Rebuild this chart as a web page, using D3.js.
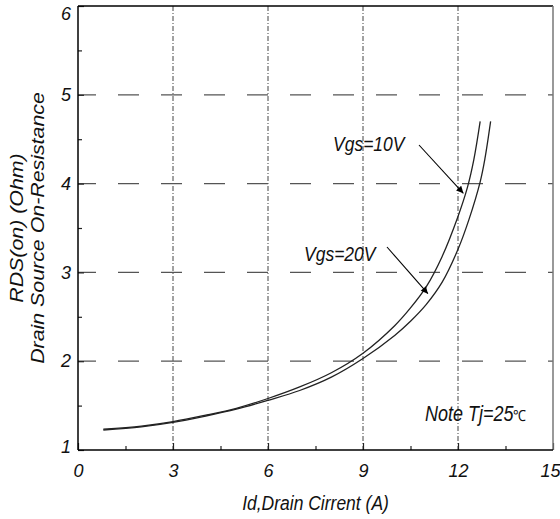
<!DOCTYPE html>
<html>
<head>
<meta charset="utf-8">
<script src="https://cdn.jsdelivr.net/npm/d3@7"></script>
<style>
  body { margin: 0; background: #fff; }
  svg text { font-family: "Liberation Sans", Arial, sans-serif; fill: #111; }
</style>
</head>
<body>
<div id="chart"></div>
<script>
// axis ticks
var xTicks = [0, 3, 6, 9, 12, 15];
var xMinor = [1.5, 4.5, 7.5, 10.5, 13.5];
var yTicks = [1, 2, 3, 4, 5, 6];
var yMinor = [1.5, 2.5, 3.5, 4.5, 5.5];
var xGrid = [3, 6, 9, 12];
var yGrid = [2, 3, 4, 5];

// curves: Id (A) vs RDS(on) (Ohm)
var id10 = [0.8, 2, 3, 4, 5, 6, 7, 8, 9, 10, 10.5, 11, 11.5, 12, 12.3, 12.5, 12.7];
var rds10 = [1.235, 1.27, 1.32, 1.39, 1.47, 1.58, 1.71, 1.87, 2.09, 2.40, 2.60, 2.84, 3.18, 3.63, 3.96, 4.27, 4.7];
var id20 = [0.8, 2, 3, 4, 5, 6, 7, 8, 9, 10, 10.5, 11, 11.5, 12, 12.35, 12.7, 12.85, 13.03];
var rds20 = [1.225, 1.26, 1.31, 1.38, 1.46, 1.56, 1.67, 1.82, 2.03, 2.29, 2.45, 2.64, 2.89, 3.26, 3.6, 4.02, 4.28, 4.7];

var W = 560, H = 519;
var margin = {top: 6, right: 7, bottom: 69, left: 78};

var svg = d3.select("#chart").append("svg")
    .attr("width", W)
    .attr("height", H);

var x = d3.scaleLinear().domain([0, 15]).range([margin.left, W - margin.right]);
var y = d3.scaleLinear().domain([1, 6]).range([H - margin.bottom, margin.top]);

// text stretched a bit vertically like the scanned original
function label(px, py, str, size, sx, sy, rot) {
    var g = svg.append("g")
        .attr("transform", `translate(${px},${py})` + (rot ? ` rotate(${rot})` : "") + ` scale(${sx},${sy})`);
    return g.append("text").attr("font-size", size).attr("font-style", "italic").text(str);
}

// grid lines
svg.append("g").selectAll("line").data(xGrid).enter().append("line")
    .attr("x1", d => x(d)).attr("x2", d => x(d))
    .attr("y1", y(6)).attr("y2", y(1))
    .attr("stroke", "#444").attr("stroke-width", 1)
    .attr("stroke-dasharray", "5,2,1,2");

svg.append("g").selectAll("line").data(yGrid).enter().append("line")
    .attr("x1", x(0)).attr("x2", x(15))
    .attr("y1", d => y(d)).attr("y2", d => y(d))
    .attr("stroke", "#555").attr("stroke-width", 1.3)
    .attr("stroke-dasharray", "21,22")
    .attr("stroke-dashoffset", 3);

// axes
var xAxis = svg.append("g")
    .attr("transform", `translate(0,${y(1)})`)
    .call(d3.axisBottom(x).tickValues(xTicks).tickSize(-7).tickPadding(14).tickFormat(d3.format("d")));
var xAxisMinor = svg.append("g")
    .attr("transform", `translate(0,${y(1)})`)
    .call(d3.axisBottom(x).tickValues(xMinor).tickSize(-4).tickFormat(""));
var yAxis = svg.append("g")
    .attr("transform", `translate(${x(0)},0)`)
    .call(d3.axisLeft(y).tickValues(yTicks).tickSize(-6).tickPadding(7).tickFormat(d3.format("d")));
var yAxisMinor = svg.append("g")
    .attr("transform", `translate(${x(0)},0)`)
    .call(d3.axisLeft(y).tickValues(yMinor).tickSize(-4).tickFormat(""));

[xAxis, xAxisMinor, yAxis, yAxisMinor].forEach(function (g) {
    g.select(".domain").remove();
    g.selectAll("line").attr("stroke", "#222").attr("stroke-width", 1.2);
    g.selectAll("text").attr("font-size", 18).attr("font-style", "italic").attr("fill", "#111");
});
yAxis.selectAll("text").attr("dy", d => d === 6 ? "0.75em" : (d === 1 ? "0.15em" : "0.32em"));
xAxis.selectAll("text").filter(d => d === 15).attr("text-anchor", "end").attr("x", 7);

// frame
svg.append("line").attr("x1", x(0)).attr("x2", x(15)).attr("y1", y(6)).attr("y2", y(6))
    .attr("stroke", "#000").attr("stroke-width", 1.5);
svg.append("line").attr("x1", x(15)).attr("x2", x(15)).attr("y1", y(6)).attr("y2", y(1))
    .attr("stroke", "#777").attr("stroke-width", 1.5);
svg.append("line").attr("x1", x(0)).attr("x2", x(0)).attr("y1", y(6)).attr("y2", y(1))
    .attr("stroke", "#000").attr("stroke-width", 1.5);
svg.append("line").attr("x1", x(0)).attr("x2", x(15)).attr("y1", y(1)).attr("y2", y(1))
    .attr("stroke", "#000").attr("stroke-width", 1.5);

// curves
var line = d3.line()
    .x(d => x(d[0]))
    .y(d => y(d[1]))
    .curve(d3.curveCatmullRom.alpha(0.5));

svg.append("path")
    .datum(id10.map((v, i) => [v, rds10[i]]))
    .attr("d", line)
    .attr("fill", "none").attr("stroke", "#222").attr("stroke-width", 1.3);
svg.append("path")
    .datum(id20.map((v, i) => [v, rds20[i]]))
    .attr("d", line)
    .attr("fill", "none").attr("stroke", "#222").attr("stroke-width", 1.3);

// arrows
svg.append("defs").append("marker")
    .attr("id", "arrow")
    .attr("viewBox", "0 0 10 10")
    .attr("refX", 10).attr("refY", 5)
    .attr("markerWidth", 10).attr("markerHeight", 7)
    .attr("markerUnits", "userSpaceOnUse")
    .attr("orient", "auto")
    .append("path").attr("d", "M0,0 L10,5 L0,10 z").attr("fill", "#000");

svg.append("line")
    .attr("x1", 419).attr("y1", 145).attr("x2", x(12.17)).attr("y2", y(3.89))
    .attr("stroke", "#000").attr("stroke-width", 1.1).attr("marker-end", "url(#arrow)");
svg.append("line")
    .attr("x1", 387).attr("y1", 247).attr("x2", x(11.05)).attr("y2", y(2.76))
    .attr("stroke", "#000").attr("stroke-width", 1.1).attr("marker-end", "url(#arrow)");

label(333, 151, "Vgs=10V", 17.5, 1, 1.18);
label(304, 261, "Vgs=20V", 17.5, 1, 1.18);

// note
var note = label(425, 421, "", 18, 1, 1.18);
note.append("tspan").text("Note Tj=25");
note.append("tspan").attr("font-style", "normal").attr("font-size", 13).text("℃");

// axis titles
label((x(0) + x(15)) / 2, 510, "Id,Drain Cirrent (A)", 17.5, 1, 1.18)
    .attr("text-anchor", "middle");

label(23, (y(1) + y(6)) / 2, "RDS(on) (Ohm)", 17.5, 1.22, 1, -90)
    .attr("text-anchor", "middle");
label(44, (y(1) + y(6)) / 2, "Drain Source On-Resistance", 17.5, 1.22, 1, -90)
    .attr("text-anchor", "middle");
</script>
</body>
</html>
